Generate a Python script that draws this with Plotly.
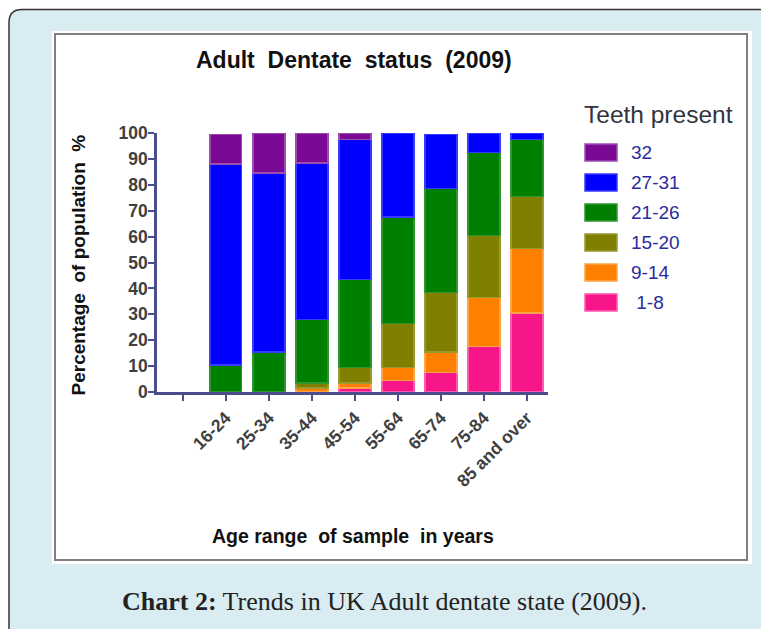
"""Stacked bar chart of adult dentate status by age range (2009)."""

import plotly.graph_objects as go


AGE_GROUPS = [
    "16-24",
    "25-34",
    "35-44",
    "45-54",
    "55-64",
    "65-74",
    "75-84",
    "85 and over",
]

# stacked bottom to top
SERIES_NAMES = ["1-8", "9-14", "15-20", "21-26", "27-31", "32"]
TEETH_1_8 = [None, None, None, 1.5, 4.5, 7.5, 17.5, 30.5]
TEETH_9_14 = [None, None, 1.5, 2, 5, 8, 19, 25]
TEETH_15_20 = [None, None, 2, 6, 17, 23, 24, 20]
TEETH_21_26 = [10.5, 15.5, 24.5, 34, 41, 40, 32, 22]
TEETH_27_31 = [77.5, 69, 60.5, 54, 32.5, 21, 7.5, 2.5]
TEETH_32 = [11.5, 15.5, 11.5, 2.5, None, None, None, None]

SERIES_VALUES = [TEETH_1_8, TEETH_9_14, TEETH_15_20, TEETH_21_26, TEETH_27_31, TEETH_32]
FILL_COLORS = ["#f7158a", "#ff8000", "#808000", "#008000", "#0000ff", "#7a0a94"]
EDGE_COLORS = ["#ff5aac", "#ffa448", "#9a9a30", "#2f962f", "#3a3aff", "#9d4cb4"]
LEGEND_LABELS = ["\u00a01-8", "9-14", "15-20", "21-26", "27-31", "32"]

AXIS_COLOR = "#4a4e8c"
TICK_FONT_COLOR = "#404040"
SANS = "Liberation Sans"
NB = "\u00a0"

FIG_W, FIG_H = 769, 629
# the page body adds an 8 px margin around the figure
PAGE_OFFSET = 8
# plot area in page pixels
PLOT_L, PLOT_R, PLOT_T, PLOT_B = 157, 548, 133, 392


def paper_x(pixel_x):
    return (pixel_x - PLOT_L) / (PLOT_R - PLOT_L)


def paper_y(pixel_y):
    return (PLOT_B - pixel_y) / (PLOT_B - PLOT_T)


bar_positions = [index + 1 for index in range(len(AGE_GROUPS))]

fig = go.Figure()

for name, values, fill, edge in zip(SERIES_NAMES, SERIES_VALUES, FILL_COLORS, EDGE_COLORS):
    fig.add_trace(
        go.Bar(
            x=bar_positions,
            y=values,
            name=name,
            width=0.74,
            marker={"color": fill, "line": {"color": edge, "width": 1.5}},
            showlegend=False,
        )
    )

# page panel, white chart box and its frame
left_edge = PAGE_OFFSET + 1
top_edge = PAGE_OFFSET + 1.5
shapes = [
    {
        "type": "path",
        "xref": "paper",
        "yref": "paper",
        "path": (
            f"M {paper_x(left_edge)},{paper_y(660)} "
            f"L {paper_x(left_edge)},{paper_y(top_edge + 13)} "
            f"Q {paper_x(left_edge)},{paper_y(top_edge)} {paper_x(left_edge + 13)},{paper_y(top_edge)} "
            f"L {paper_x(800)},{paper_y(top_edge)} L {paper_x(800)},{paper_y(660)} Z"
        ),
        "fillcolor": "#d8ecf1",
        "line": {"color": "#333333", "width": 1.5},
        "layer": "below",
    },
    {
        "type": "rect",
        "xref": "paper",
        "yref": "paper",
        "x0": paper_x(52),
        "x1": paper_x(752),
        "y0": paper_y(564),
        "y1": paper_y(31),
        "fillcolor": "white",
        "line": {"width": 0},
        "layer": "below",
    },
    {
        "type": "rect",
        "xref": "paper",
        "yref": "paper",
        "x0": paper_x(55),
        "x1": paper_x(747),
        "y0": paper_y(560),
        "y1": paper_y(34),
        "fillcolor": "rgba(0,0,0,0)",
        "line": {"color": "#7f7f7f", "width": 2},
        "layer": "below",
    },
]

annotations = [
    {
        "text": f"Adult{NB} Dentate{NB} status{NB} (2009)",
        "x": paper_x(353.5),
        "y": paper_y(60),
        "font": {"family": SANS, "size": 23, "color": "#111111", "weight": "bold"},
    },
    {
        "text": f"Percentage{NB} of population{NB} %",
        "x": paper_x(78),
        "y": paper_y(265.5),
        "textangle": -90,
        "font": {"family": SANS, "size": 19, "color": "#111111", "weight": "bold"},
    },
    {
        "text": f"Age range{NB} of sample{NB} in years",
        "x": paper_x(353),
        "y": paper_y(536),
        "font": {"family": SANS, "size": 19.5, "color": "#111111", "weight": "bold"},
    },
    {
        "text": "<b>Chart 2:</b> Trends in UK Adult dentate state (2009).",
        "x": paper_x(384.5),
        "y": paper_y(601),
        "font": {"family": "Liberation Serif", "size": 26, "color": "#222222"},
    },
    {
        "text": "Teeth present",
        "x": paper_x(582),
        "y": paper_y(115),
        "xanchor": "left",
        "font": {"family": SANS, "size": 24.5, "color": "#333340"},
    },
]

# legend, top entry is the top of the stack
for row, series_index in enumerate(reversed(range(len(SERIES_NAMES)))):
    centre_y = 152.5 + 30 * row
    shapes.append(
        {
            "type": "rect",
            "xref": "paper",
            "yref": "paper",
            "x0": paper_x(585),
            "x1": paper_x(617),
            "y0": paper_y(centre_y + 8.5),
            "y1": paper_y(centre_y - 8.5),
            "fillcolor": FILL_COLORS[series_index],
            "line": {"color": EDGE_COLORS[series_index], "width": 1.5},
        }
    )
    annotations.append(
        {
            "text": LEGEND_LABELS[series_index],
            "x": paper_x(629),
            "y": paper_y(centre_y),
            "xanchor": "left",
            "font": {"family": SANS, "size": 19, "color": "#2b2b9c"},
        }
    )

for annotation in annotations:
    annotation.setdefault("xref", "paper")
    annotation.setdefault("yref", "paper")
    annotation.setdefault("yanchor", "middle")
    annotation.setdefault("xanchor", "center")
    annotation["showarrow"] = False

fig.update_layout(
    width=FIG_W,
    height=FIG_H,
    barmode="stack",
    paper_bgcolor="white",
    plot_bgcolor="white",
    margin={
        "l": PLOT_L - PAGE_OFFSET,
        "r": FIG_W - (PLOT_R - PAGE_OFFSET),
        "t": PLOT_T - PAGE_OFFSET,
        "b": FIG_H - (PLOT_B - PAGE_OFFSET),
        "autoexpand": False,
    },
    shapes=shapes,
    annotations=annotations,
    showlegend=False,
)

tick_font = {"family": SANS, "size": 17.5, "color": TICK_FONT_COLOR, "weight": "bold"}

fig.update_xaxes(
    range=[-0.6, 8.49],
    tickmode="array",
    tickvals=[0] + bar_positions,
    ticktext=[""] + AGE_GROUPS,
    tickangle=-45,
    ticks="outside",
    ticklen=6,
    tickwidth=2,
    tickcolor=AXIS_COLOR,
    showline=True,
    linecolor=AXIS_COLOR,
    linewidth=2.5,
    showgrid=False,
    zeroline=False,
    tickfont=tick_font,
    automargin=False,
)

fig.update_yaxes(
    range=[0, 100],
    dtick=10,
    ticks="outside",
    ticklen=6,
    tickwidth=2,
    tickcolor=AXIS_COLOR,
    ticklabelstandoff=-3,
    showline=True,
    linecolor=AXIS_COLOR,
    linewidth=2.5,
    showgrid=False,
    zeroline=False,
    tickfont=tick_font,
    automargin=False,
)

fig.write_html("out.html")
